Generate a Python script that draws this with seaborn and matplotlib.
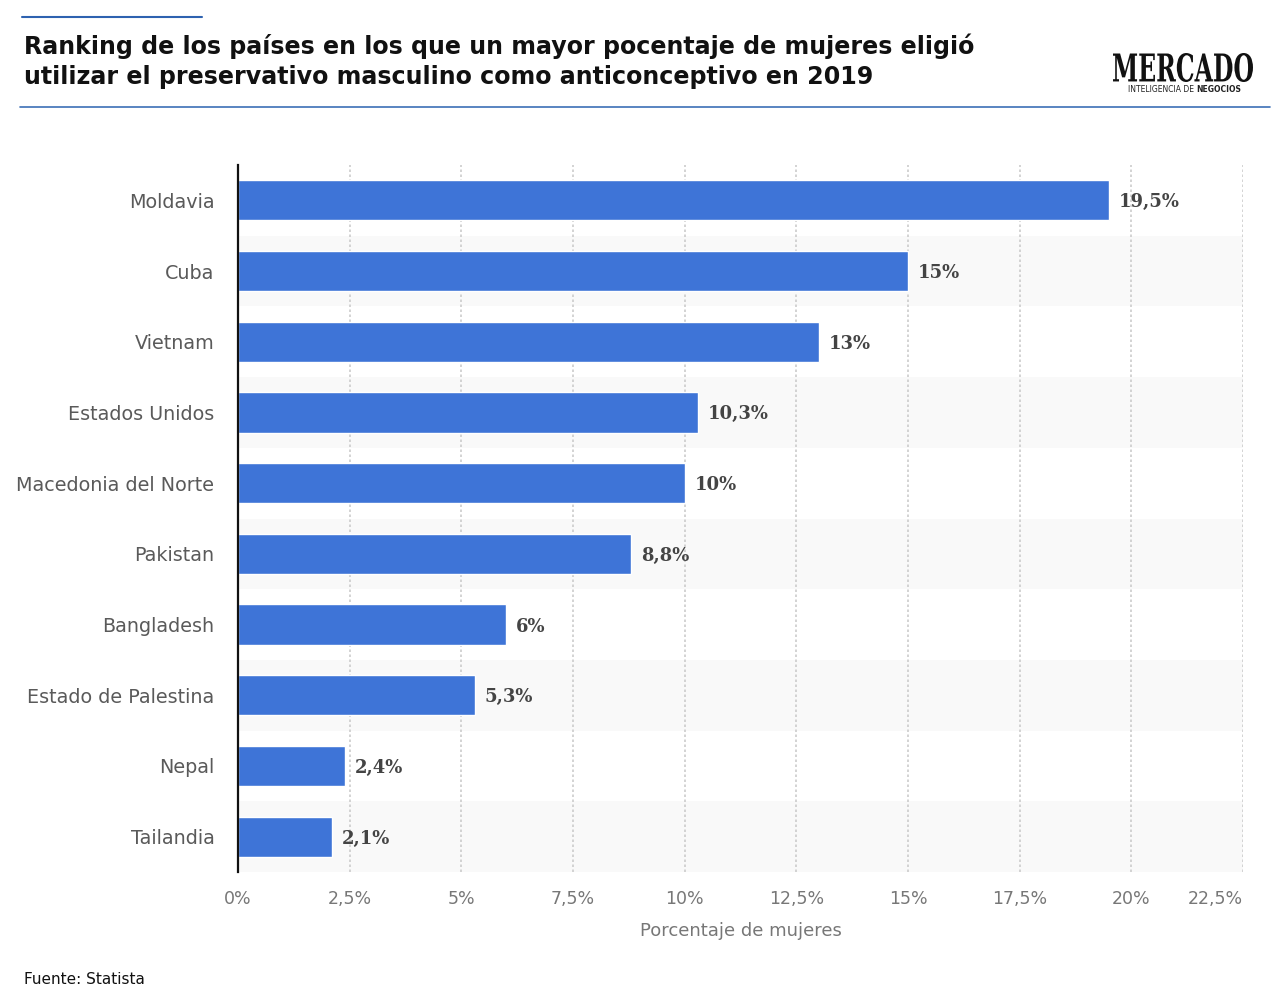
import matplotlib
matplotlib.use('Agg')
import matplotlib.pyplot as plt
import seaborn as sns
import pandas as pd
from matplotlib.lines import Line2D
from matplotlib.textpath import TextPath
from matplotlib.patches import PathPatch
from matplotlib.font_manager import FontProperties
from matplotlib.transforms import Affine2D

# Data
paises = ['Moldavia', 'Cuba', 'Vietnam', 'Estados Unidos', 'Macedonia del Norte',
          'Pakistan', 'Bangladesh', 'Estado de Palestina', 'Nepal', 'Tailandia']
valores = [19.5, 15, 13, 10.3, 10, 8.8, 6, 5.3, 2.4, 2.1]
etiquetas = ['19,5%', '15%', '13%', '10,3%', '10%', '8,8%', '6%', '5,3%', '2,4%', '2,1%']
ticks = [0, 2.5, 5, 7.5, 10, 12.5, 15, 17.5, 20, 22.5]
tick_labels = ['0%', '2,5%', '5%', '7,5%', '10%', '12,5%', '15%', '17,5%', '20%', '22,5%']

df = pd.DataFrame({'pais': paises, 'valor': valores})

sns.set_theme(style='white')
plt.rcParams['font.family'] = ['DejaVu Sans']

W, H = 1281, 998
fig = plt.figure(figsize=(W / 100, H / 100), dpi=100)
ax = fig.add_axes([238 / W, 1 - 872 / H, (1243 - 238) / W, (872 - 165) / H])

# alternating row bands
for i in range(len(paises)):
    if i % 2 == 1:
        ax.axhspan(i - 0.5, i + 0.5, color='#f9f9f9', zorder=0, lw=0)

sns.barplot(data=df, x='valor', y='pais', color='#3e74d7', saturation=1,
            width=0.57, ax=ax, zorder=3)

ax.set_xlim(0, 22.5)
ax.set_ylim(len(paises) - 0.5, -0.5)
ax.set_xticks(ticks)
ax.set_xticklabels(tick_labels, fontsize=12.5, color='#777777')
ax.get_xticklabels()[-1].set_horizontalalignment('right')
ax.tick_params(axis='x', length=0, pad=13)
ax.tick_params(axis='y', length=0, pad=17, labelsize=13.8, labelcolor='#5a5a5a')

for x in ticks[1:]:
    ax.axvline(x, color='#cccccc', lw=1.2, ls=(0, (1.5, 1.5)), zorder=1)

for s in ['top', 'right', 'bottom']:
    ax.spines[s].set_visible(False)
ax.spines['left'].set_color('#111111')
ax.spines['left'].set_linewidth(1.6)
ax.spines['left'].set_zorder(5)

for i, (v, t) in enumerate(zip(valores, etiquetas)):
    ax.text(v + 0.22, i, t, va='center_baseline', ha='left', fontsize=13, fontweight='bold',
            color='#444444', family='DejaVu Serif', zorder=4)

ax.set_xlabel('Porcentaje de mujeres', fontsize=13, color='#777777', labelpad=10)
ax.set_ylabel('')

# header
fig.add_artist(Line2D([22 / W, 202 / W], [1 - 17 / H] * 2, color='#2e62b0', lw=1.5))
fig.add_artist(Line2D([20 / W, 1270 / W], [1 - 107 / H] * 2, color='#3c6fb6', lw=1.2))
fig.text(24 / W, 1 - 46 / H,
         'Ranking de los países en los que un mayor pocentaje de mujeres eligió',
         fontsize=17.1, fontweight='bold', color='#111111', va='center', ha='left')
fig.text(24 / W, 1 - 77 / H,
         'utilizar el preservativo masculino como anticonceptivo en 2019',
         fontsize=17.1, fontweight='bold', color='#111111', va='center', ha='left')

# logo: condensed serif word mark
tp = TextPath((0, 0), 'MERCADO', size=10,
              prop=FontProperties(family='DejaVu Serif', weight='bold'))
ext = tp.get_extents()
sx = (140 / W) / ext.width
sy = (29 / H) / ext.height
tr = Affine2D().translate(-ext.x0, -ext.y0).scale(sx, sy).translate(1113 / W, 1 - 82 / H)
fig.add_artist(PathPatch(tp, transform=tr + fig.transFigure, color='#111111', lw=0))
fig.text(1196 / W, 1 - 90 / H, 'INTELIGENCIA DE ', fontsize=5.5,
         color='#222222', ha='right', va='center')
fig.text(1196 / W, 1 - 90 / H, 'NEGOCIOS', fontsize=5.5, fontweight='bold',
         color='#222222', ha='left', va='center')

fig.text(24 / W, 1 - 980 / H, 'Fuente: Statista', fontsize=11, color='#111111',
         ha='left', va='center')

fig.savefig('out.png', dpi=100, facecolor='white')
